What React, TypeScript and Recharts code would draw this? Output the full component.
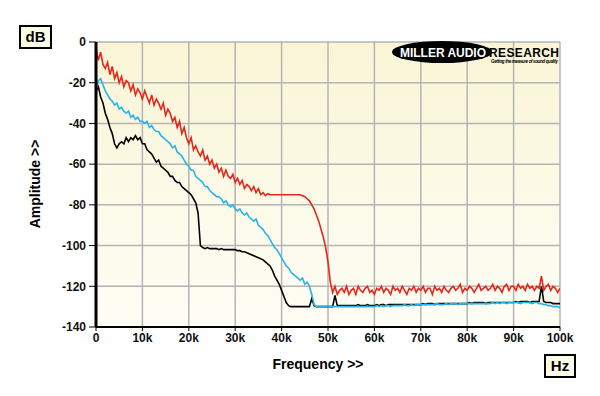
import { CartesianGrid, Line, LineChart, XAxis, YAxis } from 'recharts'

// spectrum sampled every 0.5 kHz from 0 to 100 kHz (dB)
const STEP_HZ = 500

const RED = [
  -3, -9, -5, -11, -13, -10, -16, -12, -18, -15,
  -20, -17, -22, -19, -20, -24, -21, -26, -23, -25,
  -28, -24, -27, -30, -26, -31, -28, -30, -33, -30,
  -36, -33, -35, -39, -37, -42, -39, -45, -42, -47,
  -50, -47, -53, -51, -54, -56, -53, -58, -56, -60,
  -58, -62, -60, -64, -62, -66, -63, -66, -67, -65,
  -69, -67, -70, -68, -72, -70, -71, -73, -71, -74,
  -72, -75, -74, -75.5, -74.5, -75, -75, -75, -75, -75,
  -75, -75, -75, -75, -75, -75, -75, -75, -75, -75.5,
  -76, -77, -78, -80, -82, -85, -88, -92, -96, -101,
  -108, -118, -123, -120, -124, -122, -121, -123, -120, -124,
  -122, -121, -124, -120, -122, -123, -121, -120, -123, -122,
  -124, -121, -122, -120, -123, -121, -122, -124, -120, -122,
  -121, -123, -120, -122, -124, -121, -122, -120, -123, -121,
  -122, -120, -123, -121, -121, -124, -120, -122, -121, -123,
  -120, -122, -123, -121, -120, -122, -121, -119, -123, -121,
  -122, -120, -121, -123, -121, -119, -122, -121, -120, -122,
  -121, -119, -122, -120, -121, -123, -120, -119, -122, -120,
  -120, -122, -119, -121, -120, -122, -119, -121, -120, -122,
  -120, -121, -115, -122, -120, -119, -122, -120, -121, -123,
  -121,
]

const CYAN = [
  -24, -19, -18, -21, -24, -26, -28, -29, -31, -30,
  -33, -32, -34, -35, -34, -37, -36, -38, -37, -39,
  -39, -40, -39, -42, -41, -43, -44, -44, -46, -47,
  -48, -49, -50, -52, -51, -54, -55, -56, -58, -60,
  -61, -63, -63, -66, -67, -68, -69, -71, -71, -73,
  -74, -75, -76, -76, -77, -79, -78, -80, -81, -80,
  -82, -83, -82, -84, -85, -84, -86, -87, -88, -87,
  -90, -91, -92, -94, -95, -97, -99, -101, -102, -104,
  -106, -108, -110, -111, -113, -114, -115, -116, -117, -116,
  -119, -118, -120, -124, -129, -130, -130, -130, -130, -130,
  -130, -130, -130, -130, -130, -130, -130, -130, -130, -130,
  -130, -130, -130, -130, -130, -130, -130, -130, -130, -130,
  -130, -129.5, -130, -129.5, -130, -129.5, -129.5, -130, -129.5, -129.5,
  -129.5, -129.5, -129.5, -129, -129.5, -129.5, -129, -129.5, -129, -129,
  -129, -129, -129, -129, -129, -129, -129, -128.5, -129, -129,
  -129, -128.5, -129, -128.5, -128.5, -128.5, -129, -128.5, -128.5, -128.5,
  -128.5, -128.5, -128.5, -128.5, -128.5, -128.5, -128.5, -128.5, -128.5, -128.5,
  -128.5, -128, -128.5, -128, -128.5, -128, -128, -128.5, -128, -128,
  -128, -128, -128, -128.5, -128, -128, -128, -128, -128.5, -128,
  -128, -128.5, -128.5, -129, -129, -129.5, -129.5, -130, -130, -130,
  -130.5,
]

const BLACK = [
  -24, -22, -27, -30, -35, -38, -42, -45, -50, -52,
  -50, -49, -50, -47, -49, -47, -48, -46, -48, -47,
  -50, -50, -53, -54, -55, -57, -59, -58, -61, -62,
  -63, -64, -66, -66, -68, -69, -69, -71, -72, -73,
  -74, -75, -77, -79, -84, -100, -101, -101.5, -101, -101.5,
  -101.5, -101.5, -101.5, -102, -101.5, -102, -102, -102, -102, -102,
  -102, -102.5, -102.5, -103, -103, -103.5, -104, -104.5, -105, -105.5,
  -106, -106.5, -107, -108, -109, -110, -112, -115, -117, -119,
  -122, -125, -128, -129.5, -130, -130, -130, -130, -130, -130,
  -130, -130, -130, -126, -129.5, -130, -130, -130, -130, -130,
  -130, -130, -130, -124.5, -129.5, -129.5, -129.5, -129.5, -129.5, -129.5,
  -129.5, -129.5, -129.5, -129, -129.5, -129.5, -129.5, -129, -129.5, -129.5,
  -129.5, -129, -129.5, -129, -129, -129.5, -129, -129, -129, -129,
  -129, -129, -129, -129, -129, -129, -129, -129, -129, -129,
  -129, -128.5, -129, -128.5, -128.5, -128.5, -129, -128.5, -128.5, -128.5,
  -128.5, -128.5, -128.5, -128.5, -128.5, -128.5, -128.5, -128.5, -128.5, -128.5,
  -128.5, -128, -128.5, -128, -128, -128, -128, -128, -128.5, -128,
  -128, -128, -128, -128, -128, -128, -128, -128, -128, -128,
  -128, -127.5, -128, -127.5, -127.5, -127.5, -127.5, -128, -127.5, -127.5,
  -127.5, -127.5, -120, -127.5, -128, -128, -128, -128.5, -128.5, -128.5,
  -128.5,
]

const X_TICKS = [0, 10000, 20000, 30000, 40000, 50000, 60000, 70000, 80000, 90000, 100000]
const Y_TICKS = [0, -20, -40, -60, -80, -100, -120, -140]

const data = RED.map((red, i) => ({ f: i * STEP_HZ, red, cyan: CYAN[i], black: BLACK[i] }))

const FONT = '"Liberation Sans", Arial, sans-serif'
const tickStyle = { fontSize: 12, fontWeight: 700, fill: '#111', fontFamily: FONT }

function Overlay() {
  return (
    <svg width={600} height={396} style={{ position: 'absolute', left: 0, top: 0, pointerEvents: 'none' }}>
      <rect x={20} y={26} width={31} height={22} fill="#fdfbe6" stroke="#000" strokeWidth={2} />
      <text x={35.5} y={42} textAnchor="middle" fontSize={15} fontWeight={700} fontFamily={FONT}>dB</text>
      <rect x={545} y={355} width={30} height={22} fill="#fdfbe6" stroke="#000" strokeWidth={2} />
      <text x={560} y={371} textAnchor="middle" fontSize={15} fontWeight={700} fontFamily={FONT}>Hz</text>
      <text x={318} y={369} textAnchor="middle" fontSize={14} fontWeight={700} fontFamily={FONT}>Frequency &gt;&gt;</text>
      <text
        x={40}
        y={184}
        textAnchor="middle"
        fontSize={14}
        fontWeight={700}
        fontFamily={FONT}
        transform="rotate(-90 40 184)"
      >
        Amplitude &gt;&gt;
      </text>
      <ellipse cx={442} cy={52} rx={50} ry={11} fill="#000" />
      <text x={400} y={57} fontSize={12} fontWeight={900} fill="#fff" fontFamily={FONT} textLength={86}>
        MILLER AUDIO
      </text>
      <text x={489} y={57} fontSize={12} fontWeight={900} fill="#000" fontFamily={FONT} textLength={70}>
        RESEARCH
      </text>
      <text x={491} y={62.5} fontSize={4.5} fontWeight={700} fontStyle="italic" fill="#000" fontFamily={FONT} textLength={67}>
        Getting the measure of sound quality
      </text>
    </svg>
  )
}

export default function App() {
  return (
    <div style={{ position: 'absolute', left: 0, top: 0, width: 600, height: 396, background: '#fff', fontFamily: FONT }}>
      <LineChart width={600} height={396} data={data} margin={{ top: 42, right: 40, bottom: 39, left: 0 }}>
        <defs>
          <linearGradient id="plotBg" x1="0" y1="0" x2="0" y2="1">
            <stop offset="0%" stopColor="#faf5d6" />
            <stop offset="100%" stopColor="#fefef6" />
          </linearGradient>
        </defs>
        <CartesianGrid
          stroke="#b4b4b4"
          strokeWidth={1.5}
          fill="url(#plotBg)"
          fillOpacity={1}
          horizontalValues={Y_TICKS}
          verticalValues={X_TICKS}
        />
        <XAxis
          type="number"
          dataKey="f"
          domain={[0, 100000]}
          ticks={X_TICKS}
          tickFormatter={(v) => (v === 0 ? '0' : `${v / 1000}k`)}
          tick={tickStyle}
          tickSize={4}
          tickMargin={2}
          tickLine={{ stroke: '#000' }}
          axisLine={{ stroke: '#000', strokeWidth: 2 }}
          height={30}
          interval={0}
          allowDataOverflow
        />
        <XAxis
          xAxisId="top"
          orientation="top"
          type="number"
          dataKey="f"
          domain={[0, 100000]}
          tick={false}
          tickLine={false}
          axisLine={{ stroke: '#000', strokeWidth: 1.5 }}
          height={0}
        />
        <YAxis
          type="number"
          domain={[-140, 0]}
          ticks={Y_TICKS}
          tick={tickStyle}
          tickSize={7}
          tickMargin={3}
          tickLine={{ stroke: '#000' }}
          axisLine={{ stroke: '#000', strokeWidth: 3 }}
          width={96}
          interval={0}
          allowDataOverflow
        />
        <YAxis
          yAxisId="right"
          orientation="right"
          type="number"
          domain={[-140, 0]}
          tick={false}
          tickLine={false}
          axisLine={{ stroke: '#000', strokeWidth: 1.5 }}
          width={0}
        />
        <Line type="linear" dataKey="black" stroke="#000000" strokeWidth={1.6} dot={false} isAnimationActive={false} />
        <Line type="linear" dataKey="cyan" stroke="#27b4ea" strokeWidth={1.6} dot={false} isAnimationActive={false} />
        <Line type="linear" dataKey="red" stroke="#e8261b" strokeWidth={1.6} dot={false} isAnimationActive={false} />
      </LineChart>
      <Overlay />
    </div>
  )
}
